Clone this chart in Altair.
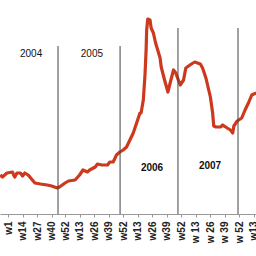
import altair as alt
import pandas as pd

# week index (0 = w1 of first year) and series value
weeks = [-7, -5, -1, 4, 5, 6, 8, 11, 13, 15, 18, 21, 24, 29, 35, 39, 44, 46, 51, 54,
         60, 64, 67, 71, 73, 78, 80, 84, 89, 91, 94, 97, 100, 103, 106, 109, 112, 115,
         118, 119, 121, 122.5, 123.5, 124, 125, 127, 128, 130, 132, 136, 137, 140, 143,
         145, 148, 150, 154, 157, 159, 164, 167, 172, 174, 177, 181, 183, 184, 186, 190,
         192, 196, 199, 201, 202, 205, 209, 212, 215, 218, 222]
ypix = [175, 177, 173, 172, 175, 177, 173, 173, 176, 173, 175, 179, 183, 184, 185, 186,
        188, 187, 183, 181, 180, 175, 170, 172, 170, 167, 164, 165, 165, 162, 162, 155,
        152, 150, 147, 140, 133, 123, 113, 113, 100, 75, 50, 30, 19, 20, 28, 33, 43, 58,
        67, 80, 92, 83, 70, 73, 85, 80, 68, 64, 62, 64, 68, 78, 97, 113, 126, 127, 127,
        125, 128, 130, 133, 126, 121, 118, 110, 103, 95, 93]
values = [214 - v for v in ypix]

tick_values = [0, 13, 26, 39, 51, 64, 77, 90, 103, 116, 129, 142, 155, 168, 181, 194, 207, 220]
tick_labels = ["w1", "w14", "w27", "w40", "w52", "w13", "w26", "w39", "w52",
               "w13", "w26", "w39", "w52", "w 13", "w 26", "w 39", "w 52", "w13"]

rule_weeks = [44.7, 100.2, 152, 205.7]
rule_tops = [168, 168, 186, 186]

year_labels_plain = ["2004", "2005"]
year_weeks_plain = [20.6, 75]
year_vals_plain = [160, 160]
year_labels_bold = ["2006", "2007"]
year_weeks_bold = [128.8, 180.7]
year_vals_bold = [46, 48]

df = pd.DataFrame({"week": weeks, "value": values})
rules = pd.DataFrame({"week": rule_weeks, "top": rule_tops, "bottom": [0] * 4})
yp = pd.DataFrame({"label": year_labels_plain, "week": year_weeks_plain, "value": year_vals_plain})
yb = pd.DataFrame({"label": year_labels_bold, "week": year_weeks_bold, "value": year_vals_bold})

label_expr = "[" + ",".join(f"'{l}'" for l in tick_labels) + "][indexof([" + \
    ",".join(str(v) for v in tick_values) + "], datum.value)]"

xscale = alt.Scale(domain=[-7.2, 221.8], nice=False, zero=False)
yscale = alt.Scale(domain=[0, 214], nice=False, zero=False)

xaxis = alt.Axis(values=tick_values, labelExpr=label_expr, labelAngle=-90,
                 labelFont="Liberation Sans", labelFontSize=10, labelFontWeight="bold",
                 labelColor="#222", labelPadding=4, tickSize=3, tickColor="#999",
                 domainColor="#999", grid=False, title=None, labelOverlap=False,
                 labelSeparation=0)

X = alt.X("week:Q", scale=xscale, axis=xaxis)
Y = alt.Y("value:Q", scale=yscale, axis=None)

line = alt.Chart(df).mark_line(color="#cc391d", strokeWidth=3.2, strokeJoin="round").encode(
    x=X, y=Y,
)

rule = alt.Chart(rules).mark_rule(color="#444", strokeWidth=1).encode(
    x=X,
    y=alt.Y("bottom:Q", scale=yscale, axis=None),
    y2="top:Q",
)

normal_text = alt.Chart(yp).mark_text(
    font="Liberation Sans", fontSize=10, color="#111").encode(
    x=X, y=Y, text="label:N")

bold_text = alt.Chart(yb).mark_text(
    font="Liberation Sans", fontSize=10, fontWeight="bold", color="#111").encode(
    x=X, y=Y, text="label:N")

chart = alt.layer(line, rule, normal_text, bold_text).properties(
    width=256, height=214, background="white",
    padding={"left": 0, "top": 0, "right": 0, "bottom": 42},
    autosize=alt.AutoSizeParams(type="none")
).configure_view(stroke=None).configure_axisX(labelOverlap=False, labelSeparation=0)

chart.save("out.html", embed_options={"renderer": "svg", "actions": False})
